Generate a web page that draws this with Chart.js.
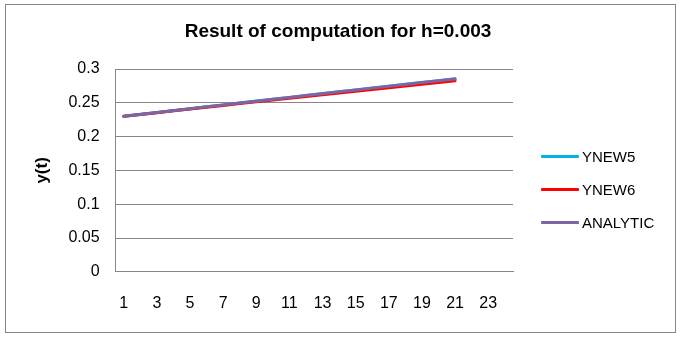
<!DOCTYPE html>
<html>
<head>
<meta charset="utf-8">
<script src="https://cdn.jsdelivr.net/npm/chart.js@4.4.1/dist/chart.umd.min.js"></script>
<style>
  html, body { margin: 0; padding: 0; background: #fff; }
  #wrap { position: relative; width: 681px; height: 338px; }
  #frame { position: absolute; left: 5px; top: 4px; width: 669px; height: 327px; border: 1px solid #868686; }
  #chart { position: absolute; left: 0; top: 0; }
  #title { position: absolute; left: 0; width: 676px; top: 20px; text-align: center;
           font: bold 19px "Liberation Sans", Arial, sans-serif; color: #000; white-space: nowrap; }
  .leg-item { position: absolute; left: 541px; height: 20px; font: 15px "Liberation Sans", Arial, sans-serif; color: #000; }
  .leg-line { position: absolute; left: 0; top: 8px; width: 38px; height: 3px; border-radius: 1px; }
  .leg-text { position: absolute; left: 41px; top: 1px; white-space: nowrap; }
</style>
</head>
<body>
<div id="wrap">
  <div id="frame"></div>
  <canvas id="chart" width="681" height="338"></canvas>
  <div id="title">Result of computation for h=0.003</div>
  <div id="legend"></div>
</div>
<script>
// x categories (1..24), only 21 computed points
const categories = ['1','2','3','4','5','6','7','8','9','10','11','12','13','14','15','16','17','18','19','20','21','22','23','24'];

const seriesNames = ['YNEW5', 'YNEW6', 'ANALYTIC'];
const seriesColors = ['#00B0F0', '#FF0000', '#8064A2'];

const ynew5 = [0.2300, 0.2329, 0.2357, 0.2385, 0.2413, 0.2441, 0.2469, 0.2497, 0.2525, 0.2553, 0.2580,
               0.2608, 0.2636, 0.2663, 0.2691, 0.2718, 0.2746, 0.2773, 0.2800, 0.2828, 0.2855];
const ynew6 = [0.2300, 0.2327, 0.2354, 0.2381, 0.2408, 0.2435, 0.2461, 0.2488, 0.2514, 0.2541, 0.2567,
               0.2593, 0.2620, 0.2646, 0.2672, 0.2698, 0.2723, 0.2749, 0.2775, 0.2800, 0.2825];
const analytic = [0.2300, 0.2328, 0.2356, 0.2384, 0.2412, 0.2440, 0.2468, 0.2496, 0.2524, 0.2552, 0.2579,
                  0.2607, 0.2635, 0.2662, 0.2690, 0.2717, 0.2745, 0.2772, 0.2799, 0.2826, 0.2853];

const yTicks = [0, 0.05, 0.1, 0.15, 0.2, 0.25, 0.3];

const FONT = '"Liberation Sans", Arial, sans-serif';

function makeLegend() {
  const box = document.getElementById('legend');
  const tops = [147, 180, 213];
  box.innerHTML = seriesNames.map((name, i) => `
    <div class="leg-item" style="top:${tops[i]}px">
      <div class="leg-line" style="background:${seriesColors[i]}"></div>
      <span class="leg-text">${name}</span>
    </div>`).join('');
}

const values = [ynew5, ynew6, analytic];

new Chart(document.getElementById('chart'), {
  type: 'line',
  data: {
    labels: categories,
    datasets: values.map((data, i) => ({
      label: seriesNames[i],
      data: data,
      borderColor: seriesColors[i],
      backgroundColor: seriesColors[i],
      borderWidth: 3,
      borderCapStyle: 'round',
      borderJoinStyle: 'round',
      pointRadius: 0,
      tension: 0,
      fill: false,
      order: seriesNames.length - i   // last series drawn on top, like Excel
    }))
  },
  options: {
    responsive: false,
    animation: false,
    layout: { padding: { top: 69, left: 32, right: 168, bottom: 3 } },
    plugins: {
      legend: { display: false },
      tooltip: { enabled: false },
      title: { display: false }
    },
    scales: {
      x: {
        type: 'category',
        offset: true,
        grid: { display: false, drawTicks: false },
        border: { display: true, color: '#868686', width: 1 },
        ticks: {
          autoSkip: false,
          maxRotation: 0,
          padding: 22,
          color: '#000',
          font: { family: FONT, size: 16 },
          callback: (v, i) => (i % 2 === 0 ? categories[i] : '')
        }
      },
      y: {
        min: 0,
        max: 0.3,
        afterBuildTicks: (axis) => { axis.ticks = yTicks.map(v => ({ value: v })); },
        grid: { color: '#868686', lineWidth: 1, drawTicks: false },
        border: { display: true, color: '#868686', width: 1 },
        ticks: {
          padding: 16,
          color: '#000',
          font: { family: FONT, size: 16 },
          callback: (v) => String(Math.round(v * 100) / 100)
        },
        title: {
          display: true,
          text: 'y(t)',
          color: '#000',
          font: { family: FONT, size: 17, weight: 'bold' },
          padding: { top: 0, bottom: 0 }
        }
      }
    }
  }
});

makeLegend();
</script>
</body>
</html>
